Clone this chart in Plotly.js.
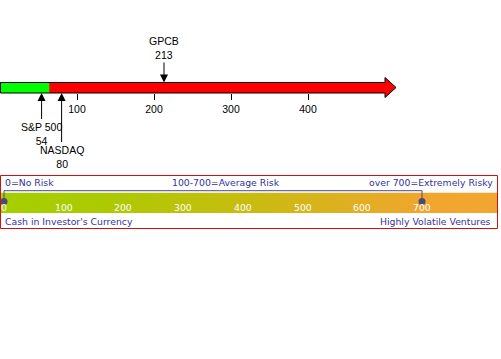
<!DOCTYPE html>
<html>
<head>
<meta charset="utf-8">
<script src="https://cdn.plot.ly/plotly-3.0.1.min.js"></script>
<style>html,body{margin:0;padding:0;background:#fff;}#chart{width:501px;height:359px;}</style>
</head>
<body>
<div id="chart"></div>
<script>
// ---- data ----
var scaleTicks = [100, 200, 300, 400];
var scaleMax = 500;          // end of arrow shaft
var safeLimit = 64;          // end of green zone
var markerNames = ["S&P 500", "NASDAQ", "GPCB"];
var markerValues = [54, 80, 213];
var riskTicks = [0, 100, 200, 300, 400, 500, 600, 700];
var riskTickLabels = ["0", "100", "200", "300", "400", "500", "600", "700"];
var riskLow = 0;
var riskHigh = 700;
var panelTopTexts = ["0=No Risk", "100-700=Average Risk", "over 700=Extremely Risky"];
var panelBottomTexts = ["Cash in Investor's Currency", "Highly Volatile Ventures"];

// ---- layout constants (pixels) ----
var W = 501, H = 359;
var pxPerUnit = 0.77;
var riskPx0 = 4, riskPxPerUnit = (422 - 4) / 700;
var barTop = 82.5, barBot = 93, headTop = 77.5, headBot = 97.5;
var headLen = 11 / pxPerUnit;
var navy = '#333399';
var topFont = {family: 'Liberation Sans, Arial, sans-serif', size: 10.5, color: '#000'};
var panelFont = {family: 'DejaVu Sans, Verdana, sans-serif', size: 9.3, color: navy};

var traces = [];
// gradient bar (on main x axis so it is drawn beneath the connector)
traces.push({
  type: 'scatter', mode: 'lines', xaxis: 'x', yaxis: 'y',
  x: [0, 497 / pxPerUnit, 497 / pxPerUnit, 0, 0], y: [192.7, 192.7, 213, 213, 192.7],
  fill: 'toself', line: {width: 0}, hoverinfo: 'skip',
  fillgradient: {type: 'horizontal', colorscale: [
    [0, 'rgb(164,207,0)'], [0.2, 'rgb(172,202,2)'], [0.5, 'rgb(200,188,16)'],
    [0.85, 'rgb(240,166,46)'], [1, 'rgb(240,166,48)']]}
});
// connector line between low and high risk
traces.push({
  type: 'scatter', mode: 'lines', xaxis: 'x2', yaxis: 'y',
  x: [riskLow, riskLow, riskHigh, riskHigh], y: [201.5, 190.7, 190.7, 201.5],
  line: {color: '#4a4a88', width: 1}, hoverinfo: 'skip'
});
traces.push({
  type: 'scatter', mode: 'markers', xaxis: 'x2', yaxis: 'y',
  x: [riskLow, riskHigh], y: [201.5, 201.5],
  marker: {color: '#4a4a7a', size: 7}, hoverinfo: 'skip'
});

var shapes = [
  {type: 'rect', xref: 'x', yref: 'y', x0: 0, x1: scaleMax, y0: barTop, y1: barBot, fillcolor: '#ff0000', line: {width: 0}},
  {type: 'rect', xref: 'x', yref: 'y', x0: 0, x1: safeLimit, y0: barTop, y1: barBot, fillcolor: '#00ff00', line: {width: 0}},
  {type: 'path', xref: 'x', yref: 'y',
   path: 'M' + scaleMax + ',' + headTop + ' L' + (scaleMax + headLen) + ',' + ((headTop + headBot) / 2) + ' L' + scaleMax + ',' + headBot + ' Z',
   fillcolor: '#ff0000', line: {width: 0}},
  {type: 'path', xref: 'x', yref: 'y',
   path: 'M0.65,' + barTop + ' H' + scaleMax + ' V' + headTop + ' L' + (scaleMax + headLen) + ',' + ((headTop + headBot) / 2) +
         ' L' + scaleMax + ',' + headBot + ' V' + barBot + ' H0.65 Z',
   fillcolor: 'rgba(0,0,0,0)', line: {color: '#000', width: 1}},
  // panel border
  {type: 'rect', xref: 'x3', yref: 'y', x0: 0.5, x1: 497.5, y0: 175.5, y1: 228.5, line: {color: '#cc1111', width: 1}, fillcolor: 'rgba(0,0,0,0)'}
];

var annotations = [];
var tips = [barBot, barBot, barTop];
var ays = [40.5, 63.5, -34.5];
for (var i = 0; i < markerNames.length; i++) {
  annotations.push({
    x: markerValues[i], xref: 'x', y: tips[i], yref: 'y',
    text: markerNames[i] + '<br>' + markerValues[i],
    showarrow: true, ax: 0, ay: ays[i], arrowhead: 2, arrowsize: 1.6, arrowwidth: 1, arrowcolor: '#000',
    font: topFont
  });
}
for (var j = 0; j < riskTicks.length; j++) {
  annotations.push({
    x: riskTicks[j], xref: 'x2', y: 207.7, yref: 'y', text: riskTickLabels[j], showarrow: false,
    font: {family: panelFont.family, size: panelFont.size, color: '#fff'}
  });
}
annotations.push({x: 3, xref: 'x3', xanchor: 'left', y: 182.7, yref: 'y', text: panelTopTexts[0], showarrow: false, font: panelFont});
annotations.push({x: 226, xref: 'x3', xanchor: 'center', y: 182.7, yref: 'y', text: panelTopTexts[1], showarrow: false, font: panelFont});
annotations.push({x: 495, xref: 'x3', xanchor: 'right', y: 182.7, yref: 'y', text: panelTopTexts[2], showarrow: false, font: panelFont});
annotations.push({x: 3, xref: 'x3', xanchor: 'left', y: 221.7, yref: 'y', text: panelBottomTexts[0], showarrow: false, font: panelFont});
annotations.push({x: 493, xref: 'x3', xanchor: 'right', y: 221.7, yref: 'y', text: panelBottomTexts[1], showarrow: false, font: panelFont});

var hidden = {showgrid: false, zeroline: false, showticklabels: false, ticks: '', showline: false, fixedrange: true};
var layout = {
  width: W, height: H, autosize: false,
  margin: {l: 0, r: 0, t: 0, b: 0, pad: 0},
  paper_bgcolor: '#fff', plot_bgcolor: '#fff', showlegend: false,
  xaxis: {range: [0, W / pxPerUnit], domain: [0, 1], anchor: 'free', position: 1 - barBot / H,
          tickvals: scaleTicks, ticktext: scaleTicks.map(String), ticks: 'outside', ticklen: 6, tickwidth: 1, tickcolor: '#000',
          showgrid: false, zeroline: false, showline: false, tickfont: topFont, fixedrange: true},
  xaxis2: Object.assign({range: [-riskPx0 / riskPxPerUnit, (W - riskPx0) / riskPxPerUnit], domain: [0, 1], anchor: 'y', overlaying: 'x'}, hidden),
  xaxis3: Object.assign({range: [0, W], domain: [0, 1], anchor: 'y', overlaying: 'x'}, hidden),
  yaxis: Object.assign({range: [H, 0], domain: [0, 1]}, hidden),
  shapes: shapes, annotations: annotations
};
Plotly.newPlot('chart', traces, layout, {staticPlot: true, displayModeBar: false});
</script>
</body>
</html>
